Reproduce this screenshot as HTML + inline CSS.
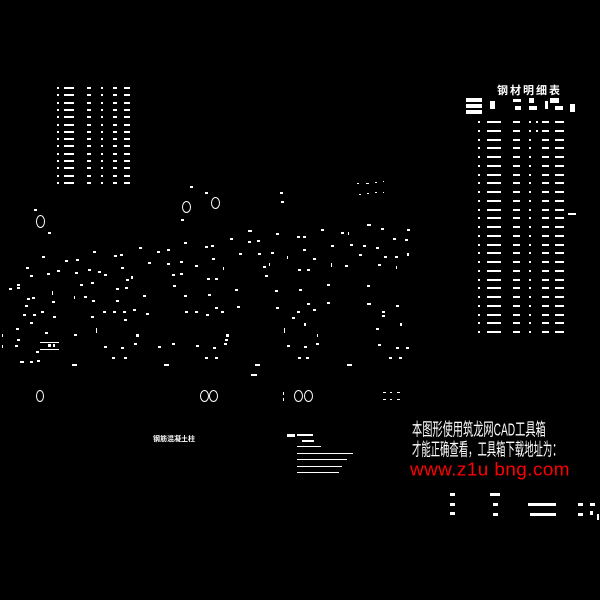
<!DOCTYPE html>
<html><head><meta charset="utf-8"><style>
html,body{margin:0;padding:0;background:#000;}
#c{position:relative;width:600px;height:600px;background:#000;overflow:hidden;font-family:"Liberation Sans","Noto Sans CJK SC",sans-serif;}
.d{position:absolute;background:#fff;}
.o{position:absolute;border:1px solid #fff;border-radius:50%;box-sizing:border-box;}
.t{position:absolute;color:#fff;white-space:nowrap;transform-origin:0 0;line-height:1;}
</style></head><body><div id="c">
<div class="t" style="left:412px;top:421px;font-size:17px;transform:scale(0.6,1.05);">本图形使用筑龙网CAD工具箱</div>
<div class="t" style="left:412px;top:441px;font-size:17px;transform:scale(0.55,1.05);">才能正确查看，工具箱下载地址为：</div>
<div class="t" style="left:410px;top:460px;font-size:22px;color:#f00;transform:scale(0.86,0.85);letter-spacing:0.5px;">www.z1u bng.com</div>
<div class="t" style="left:497px;top:86px;font-size:11px;font-weight:bold;letter-spacing:2px;">钢材明细表</div>
<div class="t" style="left:153px;top:436px;font-size:7px;font-weight:bold;">钢筋混凝土柱</div>
</div>
<script>
var c=document.getElementById('c');
function R(x,y,w,h){var e=document.createElement('div');e.className='d';e.style.cssText='left:'+x+'px;top:'+y+'px;width:'+(w||3)+'px;height:'+(h||2)+'px';c.appendChild(e);}
function O(x,y,w,h){var e=document.createElement('div');e.className='o';e.style.cssText='left:'+(x-w/2)+'px;top:'+(y-h/2)+'px;width:'+w+'px;height:'+h+'px';c.appendChild(e);}
var pts=[[34,209],[48,232],[190,186],[205,192],[181,219],[280,192],[281,201],[248,230,4],[276,233],[230,238],[248,241],[257,240],[297,236],[303,236],[321,229],[341,232],[348,232,1,3],[367,224,4],[381,228],[407,229],[393,238],[405,239],[331,245],[350,244],[363,245],[376,247],[93,251],[42,256],[65,260],[76,259],[114,255],[120,254],[139,247],[157,251],[167,249],[184,242],[205,246],[211,245],[239,253],[258,253],[271,252],[303,249],[287,256,1,3],[313,258],[359,254],[384,256],[395,256],[407,253,2,3],[26,267],[30,275],[47,273],[57,270],[75,272],[88,269],[98,271],[104,274],[121,267],[131,276,2,3],[126,279],[148,262],[167,263],[180,261],[195,265],[212,258],[223,267,1,3],[269,263,1,3],[263,266],[298,269],[307,269],[331,263,1,4],[345,265],[378,264],[396,266,1,3],[9,288],[17,287],[17,284],[52,291,1,4],[27,298],[32,297],[52,301],[74,296,1,3],[84,296],[92,300],[116,288],[125,287],[91,282],[80,284],[116,300],[143,295],[173,285],[184,295],[172,274],[180,273],[207,278],[215,278],[208,294],[235,289],[265,275],[275,290],[299,289],[327,284],[367,285],[25,305],[23,314],[33,314],[41,311],[53,316],[30,322],[103,311],[113,311],[123,311],[133,309],[146,313],[91,316],[124,319],[185,311],[195,311],[206,314],[215,307],[221,311],[237,306],[276,307],[307,303],[313,309],[297,311],[292,317],[304,323,2,3],[327,302],[367,303,4],[382,311],[382,315],[396,305],[400,323,2,3],[376,328],[16,328],[45,332],[2,334,1,3],[2,345,1,3],[17,339],[15,345],[74,334],[96,328,1,5],[136,334,3,3],[134,343],[104,346],[121,347],[112,357],[124,357],[158,346],[172,343],[196,345],[213,347],[205,357],[215,357],[226,334,3,3],[225,339],[224,343],[284,328,1,5],[287,345],[304,346],[317,334,1,3],[316,343],[298,357],[306,357],[378,344],[396,347],[406,347],[389,357],[399,357],[72,364,5],[164,364,5],[255,364,5],[251,374,6],[347,364,5],[20,361,4],[30,361],[37,360],[36,351],
[357,183,2,1],[366,183,3,1],[375,182,2,1],[383,181,1,1],[359,194,2,1],[367,193,2,1],[375,192,2,1],[383,192,1,1]];
pts.forEach(function(p){R(p[0],p[1],p[2],p[3]);});
R(40,342,19,1);R(40,349,19,1);R(48,344,3,3);R(53,344,2,3);
O(40,221,9,13);O(186,207,9,12);O(215,203,9,12);O(40,396,8,12);O(204,396,9,12);O(213,396,9,12);O(298,396,9,12);O(308,396,9,12);
R(283,392,1,3);R(283,398,1,3);
R(383,392,3,1);R(390,392,2,1);R(397,392,3,1);R(383,399,3,1);R(390,399,2,1);R(397,399,3,1);
for(var i=0;i<14;i++){var y=87+i*7.3;R(57,y,2,2);R(64,y,10,2);R(87,y,4,2);R(101,y,2,2);R(113,y,4,2);R(124,y,6,2);}
[[466,98,16,4],[466,104,16,4],[466,110,16,4],[490,101,5,8],[513,99,8,3],[515,106,6,4],[529,98,5,5],[529,106,8,4],[545,101,3,8],[550,98,9,5],[555,106,8,4],[570,104,5,8]].forEach(function(p){R(p[0],p[1],p[2],p[3]);});
for(var j=0;j<25;j++){var y=121+j*8.75;R(478,y,2,2);R(487,y,14,2);R(513,y,7,2);R(529,y,2,2);if(j<2)R(536,y,2,2);R(542,y,7,2);R(555,y,9,2);}
R(568,213,8,2);
R(287,434,8,3);R(297,434,16,2);R(302,440,12,2);R(297,446,24,1);R(297,453,56,1);R(297,459,50,1);R(297,466,45,1);R(297,472,42,1);
[[450,493,5,3],[490,493,10,3],[450,503,5,3],[493,503,5,3],[528,503,28,3],[578,503,5,3],[590,503,5,3],[450,512,5,3],[493,513,5,3],[530,513,26,3],[578,513,5,3],[590,511,3,4],[597,514,2,6]].forEach(function(p){R(p[0],p[1],p[2],p[3]);});
</script>
</body></html>
